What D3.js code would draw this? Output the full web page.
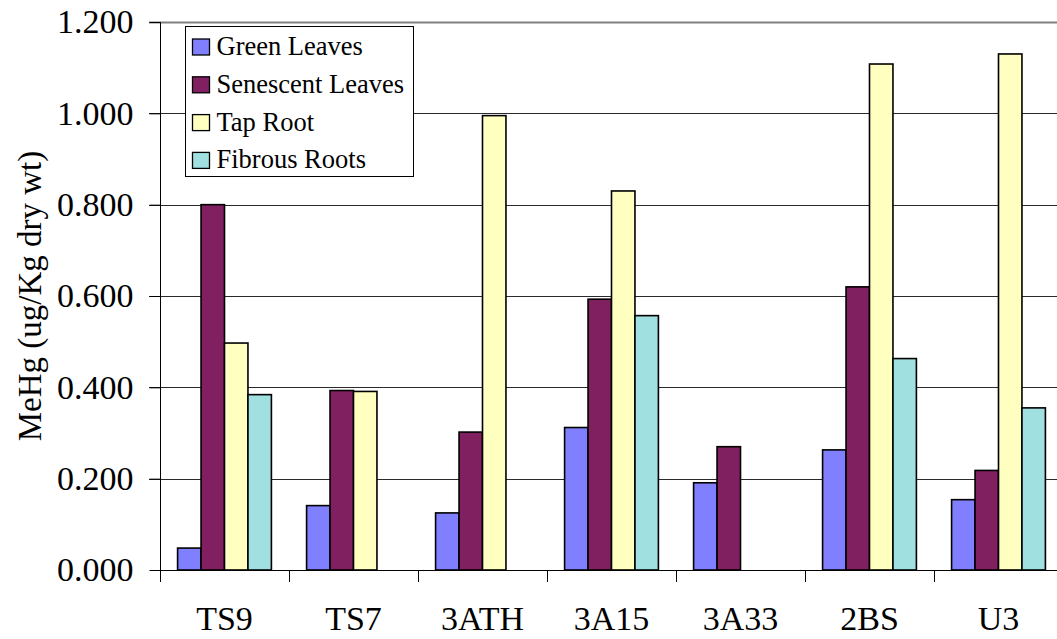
<!DOCTYPE html>
<html>
<head>
<meta charset="utf-8">
<script src="https://cdn.jsdelivr.net/npm/d3@7"></script>
<style>
  html, body { margin: 0; padding: 0; background: #fff; }
  svg { display: block; }
  svg text { font-family: "Liberation Serif", "Times New Roman", "DejaVu Serif", serif !important; fill: #000; }
</style>
</head>
<body>
<svg id="chart" width="1057" height="639"></svg>
<script>
// Sites along the x axis
const categories = ["TS9", "TS7", "3ATH", "3A15", "3A33", "2BS", "U3"];
// Tissue types (series)
const series = ["Green Leaves", "Senescent Leaves", "Tap Root", "Fibrous Roots"];
// MeHg concentration, ug/Kg dry wt (null = not measured)
const greenLeaves     = [0.048, 0.141, 0.125, 0.312, 0.191, 0.263, 0.154];
const senescentLeaves = [0.800, 0.393, 0.302, 0.593, 0.270, 0.620, 0.218];
const tapRoot         = [0.497, 0.391, 0.995, 0.830, null,  1.108, 1.130];
const fibrousRoots    = [0.384, null,  null,  0.557, null,  0.463, 0.355];
const yTicks = [0, 0.2, 0.4, 0.6, 0.8, 1.0, 1.2];
const colors = ["#8080FF", "#802060", "#FFFFC0", "#A0E0E0"];

const FONT = "'Liberation Serif', 'Times New Roman', 'DejaVu Serif', serif";
const values = [greenLeaves, senescentLeaves, tapRoot, fibrousRoots];
const rows = categories.map((c, i) => ({
  cat: c,
  vals: series.map((s, j) => ({ key: s, v: values[j][i], j }))
}));

const svg = d3.select("#chart").attr("font-family", FONT);
const plotLeft = 160, plotTop = 22, plotBottom = 570;
const step = 129;
const plotRight = plotLeft + step * categories.length;

const y = d3.scaleLinear().domain([0, 1.2]).range([plotBottom, plotTop]);
const x0 = d3.scaleBand().domain(categories).range([plotLeft, plotRight])
  .paddingInner(1.5 / 5.5).paddingOuter(0.75 / 5.5);
const x1 = d3.scaleBand().domain(series).range([0, x0.bandwidth()]).padding(0);

// Horizontal gridlines
svg.append("g").selectAll("line").data(yTicks.filter(t => t > 0)).join("line")
  .attr("x1", plotLeft - 11).attr("x2", 1100)
  .attr("y1", d => Math.round(y(d)) + 0.5).attr("y2", d => Math.round(y(d)) + 0.5)
  .attr("stroke", d => d === 1.2 ? "#808080" : "#2a2a2a")
  .attr("stroke-width", d => d === 1.2 ? 2 : 1);

// Bars
const groups = svg.append("g").selectAll("g").data(rows).join("g")
  .attr("transform", d => `translate(${x0(d.cat)},0)`);
groups.selectAll("rect").data(d => d.vals.filter(e => e.v !== null)).join("rect")
  .attr("x", d => x1(d.key))
  .attr("y", d => y(d.v))
  .attr("width", x1.bandwidth())
  .attr("height", d => y(0) - y(d.v))
  .attr("fill", d => colors[d.j])
  .attr("stroke", "#000")
  .attr("stroke-width", 1.6);

// Y axis
const yAxis = d3.axisLeft(y).tickValues(yTicks).tickSize(11).tickPadding(16)
  .tickFormat(d3.format(".3f"));
const gy = svg.append("g").attr("transform", `translate(${plotLeft + 0.5},0)`).call(yAxis)
  .attr("font-family", FONT).attr("font-size", 34);
gy.select(".domain").attr("d", `M0,${plotTop}V${plotBottom + 12}`).attr("stroke", "#000");
gy.selectAll(".tick line").attr("stroke", "#000");
gy.selectAll(".tick text").style("font-family", FONT).style("font-size", "34px");

// X axis baseline with category boundary ticks
const gx = svg.append("g");
gx.append("line").attr("x1", plotLeft).attr("x2", 1100)
  .attr("y1", plotBottom + 0.5).attr("y2", plotBottom + 0.5).attr("stroke", "#000");
gx.selectAll(".bt").data(d3.range(categories.length + 1)).join("line")
  .attr("class", "bt")
  .attr("x1", i => Math.round(plotLeft + i * x0.step()) + 0.5)
  .attr("x2", i => Math.round(plotLeft + i * x0.step()) + 0.5)
  .attr("y1", plotBottom).attr("y2", plotBottom + 12)
  .attr("stroke", "#000");
gx.selectAll("text").data(categories).join("text")
  .attr("x", d => x0(d) + x0.bandwidth() / 2)
  .attr("y", 630)
  .attr("text-anchor", "middle")
  .style("font-family", FONT)
  .style("font-size", "34px")
  .text(d => d);

// Y axis title
svg.append("text")
  .attr("transform", `translate(41,${(plotTop + plotBottom) / 2}) rotate(-90)`)
  .attr("text-anchor", "middle")
  .style("font-family", FONT)
  .style("font-size", "33px")
  .text("MeHg (ug/Kg dry wt)");

// Legend
const lg = svg.append("g");
lg.append("rect").attr("x", 185.5).attr("y", 26.5).attr("width", 228).attr("height", 150)
  .attr("fill", "#fff").attr("stroke", "#000").attr("stroke-width", 1);
const items = lg.selectAll("g").data(series).join("g")
  .attr("transform", (d, i) => `translate(0,${55 + i * 37.8})`);
items.append("rect").attr("x", 192.5).attr("y", -16).attr("width", 17).attr("height", 16)
  .attr("fill", (d, i) => colors[i]).attr("stroke", "#000").attr("stroke-width", 1.3);
items.append("text").attr("x", 216.5).attr("y", 0)
  .style("font-family", FONT).style("font-size", "26.5px").text(d => d);
</script>
</body>
</html>
